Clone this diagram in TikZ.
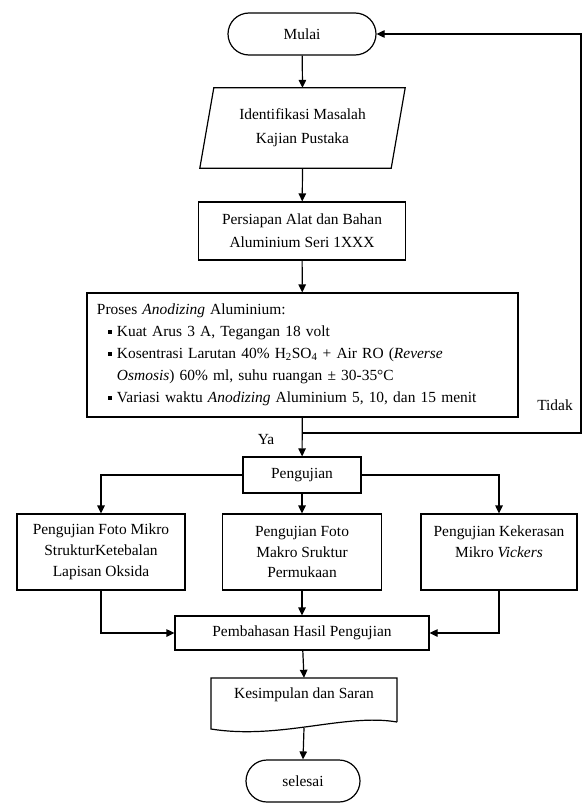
\documentclass[tikz,border=0pt]{standalone}
\usepackage{fontspec}
\setmainfont{Liberation Serif}
\usetikzlibrary{arrows.meta,shapes.misc}
\newcommand\sqbul{\rule[3bp]{4bp}{4bp}\hspace{5bp}}
\begin{document}
\begin{tikzpicture}[x=1bp,y=-1bp,
  every node/.style={font=\fontsize{15.5}{21}\selectfont, inner sep=0pt},
  box/.style={draw, line width=1.2bp, rectangle, align=center},
  term/.style={draw, line width=1.2bp, rounded rectangle, align=center},
  con/.style={line width=1.2bp, -{Triangle[length=8bp,width=7.5bp]}},
  ln/.style={line width=1.2bp}]
\useasboundingbox (0,0) rectangle (586,806);

\node[term, minimum width=148bp, minimum height=42bp] (mulai) at (302,34) {Mulai};

\node[minimum width=191bp, minimum height=80bp, align=center,
      font=\fontsize{15.5}{24}\selectfont] (ident) at (302.5,128) {Identifikasi Masalah\\Kajian Pustaka};
\draw[ln] ([xshift=7bp]ident.north west) -- ([xshift=7bp]ident.north east)
  -- ([xshift=-7bp]ident.south east) -- ([xshift=-7bp]ident.south west) -- cycle;

\node[box, minimum width=207bp, minimum height=58bp,
      font=\fontsize{15.5}{23}\selectfont] (siap) at (302,231) {Persiapan Alat dan Bahan\\Aluminium Seri 1XXX};

\node[box, text width=411bp, minimum height=124bp, inner xsep=10bp, align=left,
      font=\fontsize{15.5}{22}\selectfont] (proses) at (302.5,355) {Proses \textit{Anodizing} Aluminium:\\
\hspace*{11bp}\sqbul Kuat Arus 3 A, Tegangan 18 volt\\
\hspace*{11bp}\sqbul Kosentrasi Larutan 40\% H\textsubscript{2}SO\textsubscript{4} + Air RO (\textit{Reverse}\\
\hspace*{20bp}\textit{Osmosis}) 60\% ml, suhu ruangan ± 30-35°C\\
\hspace*{11bp}\sqbul Variasi waktu \textit{Anodizing} Aluminium 5, 10, dan 15 menit};

\node[box, minimum width=118bp, minimum height=36bp] (uji) at (302,475) {Pengujian};

\node[box, minimum width=168bp, minimum height=76bp] (kiri) at (101,552) {Pengujian Foto Mikro\\StrukturKetebalan\\Lapisan Oksida};
\node[box, minimum width=159bp, minimum height=76bp] (tengah) at (302,552) {Pengujian Foto\\Makro Sruktur\\Permukaan};
\node[box, minimum width=156bp, minimum height=76bp] (kanan) at (499,552) {Pengujian Kekerasan\\Mikro \textit{Vickers}\\ \mbox{}};

\node[box, minimum width=254bp, minimum height=34bp] (bahas) at (302,633) {Pembahasan Hasil Pengujian};

\node[minimum width=186bp, minimum height=50bp] (simpul) at (304,703) {};
\node (simpultxt) at (304,695) {Kesimpulan dan Saran};
\draw[ln] (397,722) -- (397,678) -- (211,678) -- (211,729)
  .. controls (280,740) and (345,713) .. (397,722);

\node[term, minimum width=114bp, minimum height=42bp] (selesai) at (303,781) {selesai};

\node (ya) at (266,440) {Ya};
\node (tidak) at (555,405) {Tidak};

\coordinate (j) at (302,433);
\coordinate (fr) at (581,433);

\draw[con] (mulai) -- (ident.north);
\draw[con] (ident.south) -- (siap);
\draw[con] (siap) -- (proses);
\draw[con] (proses) -- (uji);
\draw[con] (j) -- (fr) |- (mulai.east);
\draw[con] (uji.west) -| (kiri.north);
\draw[con] (uji.east) -| (kanan.north);
\draw[con] (uji) -- (tengah);
\draw[con] (kiri.south) |- (bahas.west);
\draw[con] (kanan.south) |- (bahas.east);
\draw[con] (tengah) -- (bahas);
\draw[con] (bahas) -- (simpul.north);
\draw[con] (simpul.south) -- (selesai.north);
\end{tikzpicture}
\end{document}
